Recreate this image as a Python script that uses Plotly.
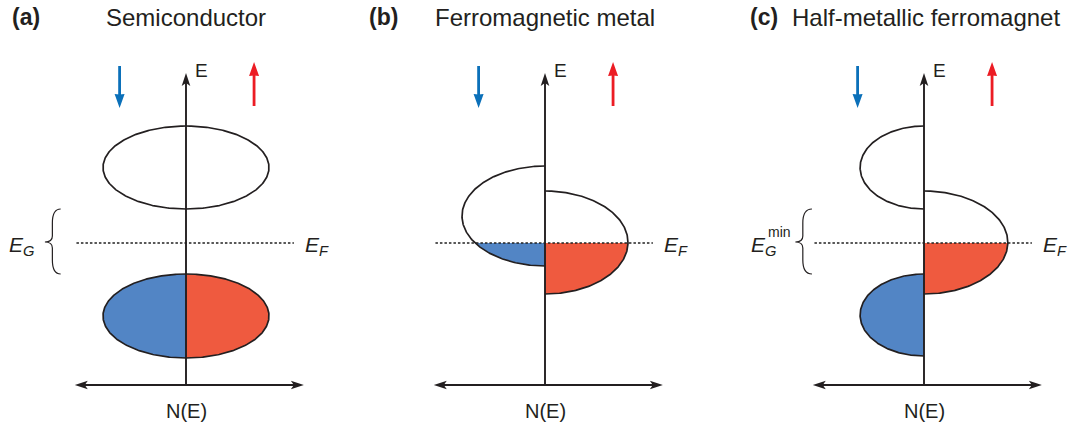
import numpy as np
import plotly.graph_objects as go

# ---------------- data (schematic band parameters, E in arb. units, N(E) in arb. units) -------------
panel_tags = ["(a)", "(b)", "(c)"]
panel_titles = ["Semiconductor", "Ferromagnetic metal", "Half-metallic ferromagnet"]
E_F = 0.0

# spin-down (left) and spin-up (right) bands: centre energy, half-height (energy), half-width (DOS)
a_dn_center = [1.51, -1.46]
a_dn_halfheight = [0.83, 0.84]
a_dn_halfwidth = [1.0, 1.0]
a_up_center = [1.51, -1.46]
a_up_halfheight = [0.83, 0.84]
a_up_halfwidth = [1.0, 1.0]

b_dn_center = [0.54]
b_dn_halfheight = [1.0]
b_dn_halfwidth = [1.0]
b_up_center = [0.01]
b_up_halfheight = [1.03]
b_up_halfwidth = [1.0]

c_dn_center = [1.51, -1.44]
c_dn_halfheight = [0.83, 0.82]
c_dn_halfwidth = [0.77, 0.77]
c_up_center = [0.01]
c_up_halfheight = [1.03]
c_up_halfwidth = [1.01]

gap_labels = ["E<sub>G</sub>", None, "E<sub>G</sub>"]
gap_sup = [None, None, "min"]

# ---------------- styling / layout constants -------------
W, H = 1075, 428
PX_X = 83.0   # px per DOS unit
PX_Y = 50.0   # px per energy unit
EF_PX = 243.0
BLUE_FILL = "#5285c5"
RED_FILL = "#ef5a3f"
BLUE_ARROW = "#0b70b9"
RED_ARROW = "#ec1c24"
INK = "#231f20"
FONT = "Liberation Sans, Arial, Helvetica, sans-serif"

panel_px = [(0, 358), (358, 716), (716, 1075)]
axis_px = [186, 545, 924]

y_top = EF_PX / PX_Y
y_bot = -(H - EF_PX) / PX_Y

bands = [
    [(a_dn_center, a_dn_halfheight, a_dn_halfwidth, -1), (a_up_center, a_up_halfheight, a_up_halfwidth, 1)],
    [(b_dn_center, b_dn_halfheight, b_dn_halfwidth, -1), (b_up_center, b_up_halfheight, b_up_halfwidth, 1)],
    [(c_dn_center, c_dn_halfheight, c_dn_halfwidth, -1), (c_up_center, c_up_halfheight, c_up_halfwidth, 1)],
]

fig = go.Figure()
shapes = []
annotations = []
xaxes = ["x", "x2", "x3"]


def head_path(xt, yt, direction, L=13.0, Wd=4.3, notch=3.0):
    # tip at (xt, yt); build in pixel offsets then convert to data units
    if direction == "up":
        a, p = (0, 1 / PX_Y), (1 / PX_X, 0)
    elif direction == "down":
        a, p = (0, -1 / PX_Y), (1 / PX_X, 0)
    elif direction == "left":
        a, p = (-1 / PX_X, 0), (0, 1 / PX_Y)
    else:
        a, p = (1 / PX_X, 0), (0, 1 / PX_Y)
    pts = [(0, 0), (-L, Wd), (-L + notch, 0), (-L, -Wd)]
    out = []
    for al, pe in pts:
        out.append((xt + al * a[0] + pe * p[0], yt + al * a[1] + pe * p[1]))
    return "M " + " L ".join(f"{x:.5f},{y:.5f}" for x, y in out) + " Z"


def arrow(xref, x0, y0, x1, y1, direction, color, lw, L, Wd, notch):
    # line from (x0,y0) to tip (x1,y1)
    back = (L - notch - 0.5)
    if direction == "up":
        yl, xl = y1 - back / PX_Y, x1
    elif direction == "down":
        yl, xl = y1 + back / PX_Y, x1
    elif direction == "left":
        xl, yl = x1 + back / PX_X, y1
    else:
        xl, yl = x1 - back / PX_X, y1
    shapes.append(dict(type="line", xref=xref, yref="y", x0=x0, y0=y0, x1=xl, y1=yl,
                       line=dict(color=color, width=lw), layer="above"))
    shapes.append(dict(type="path", xref=xref, yref="y", path=head_path(x1, y1, direction, L, Wd, notch),
                       fillcolor=color, line=dict(width=0), layer="above"))


for i in range(3):
    xa = xaxes[i]
    # band lobes
    for centers, hhs, hws, side in bands[i]:
        fillc = BLUE_FILL if side < 0 else RED_FILL
        for c, hh, hw in zip(centers, hhs, hws):
            # filled part below E_F
            if c - hh < E_F:
                ytop = min(c + hh, E_F)
                t1 = np.arcsin(np.clip((ytop - c) / hh, -1, 1))
                t = np.linspace(-np.pi / 2, t1, 120)
                xs = side * hw * np.cos(t)
                ys = c + hh * np.sin(t)
                xf = np.concatenate([[0], xs, [0]])
                yf = np.concatenate([[c - hh], ys, [ytop]])
                fig.add_trace(go.Scatter(x=xf, y=yf, xaxis=xa, yaxis="y", mode="lines",
                                         fill="toself", fillcolor=fillc, line=dict(width=0),
                                         hoverinfo="skip", showlegend=False))
            # outline of curved part
            t = np.linspace(-np.pi / 2, np.pi / 2, 200)
            fig.add_trace(go.Scatter(x=side * hw * np.cos(t), y=c + hh * np.sin(t), xaxis=xa, yaxis="y",
                                     mode="lines", line=dict(color=INK, width=1.7),
                                     hoverinfo="skip", showlegend=False))

    # Fermi level dashed line
    shapes.append(dict(type="line", xref=xa, yref="y", x0=-1.32, x1=1.30, y0=E_F, y1=E_F,
                       line=dict(color="#222222", width=1.3, dash="2.5px,2px"), layer="above"))
    annotations.append(dict(xref=xa, yref="y", x=1.41, y=E_F - 0.05, xanchor="left", yanchor="middle",
                            text="<i>E</i><sub><i>F</i></sub>", showarrow=False,
                            font=dict(family=FONT, size=21, color=INK)))

    # axes
    arrow(xa, 0, -2.84, 0, 3.40, "up", INK, 1.9, 13, 4.3, 3)
    arrow(xa, 0.2, -2.84, -1.34, -2.84, "left", INK, 1.9, 13, 4.3, 3)
    arrow(xa, -0.2, -2.84, 1.42, -2.84, "right", INK, 1.9, 13, 4.3, 3)
    annotations.append(dict(xref=xa, yref="y", x=0.08, y=3.46, xanchor="left", yanchor="middle",
                            text="E", showarrow=False, font=dict(family=FONT, size=19, color=INK)))
    annotations.append(dict(xref=xa, yref="y", x=0.0, y=-3.36, xanchor="center", yanchor="middle",
                            text="N(E)", showarrow=False, font=dict(family=FONT, size=20, color=INK)))

    # spin arrows
    arrow(xa, -0.80, 3.54, -0.80, 2.70, "down", BLUE_ARROW, 2.8, 14, 5.0, 0.5)
    arrow(xa, 0.82, 2.74, 0.82, 3.62, "up", RED_ARROW, 2.8, 14, 5.0, 0.5)

    # gap brace
    if gap_labels[i] is not None:
        dn = bands[i][0]
        cs, hs = dn[0], dn[1]
        y1 = min(c - h for c, h in zip(cs, hs) if c - h > E_F)
        y0 = max(c + h for c, h in zip(cs, hs) if c + h < E_F)
        ym = 0.5 * (y0 + y1) - 0.01
        if i == 0:
            xr, xs_, xl = -1.51, -1.61, -1.70
        else:
            xr, xs_, xl = -1.35, -1.46, -1.55
        d = 0.28
        dm = 0.12
        path = (f"M {xr},{y1} Q {xs_},{y1} {xs_},{y1 - d} L {xs_},{ym + dm} "
                f"Q {xs_},{ym} {xl},{ym} Q {xs_},{ym} {xs_},{ym - dm} L {xs_},{y0 + d} "
                f"Q {xs_},{y0} {xr},{y0}")
        shapes.append(dict(type="path", xref=xa, yref="y", path=path,
                           line=dict(color=INK, width=1.2)))
        if gap_sup[i] is None:
            annotations.append(dict(xref=xa, yref="y", x=-1.81, y=E_F - 0.05, xanchor="right", yanchor="middle",
                                    text="<i>" + gap_labels[i] + "</i>", showarrow=False,
                                    font=dict(family=FONT, size=21, color=INK)))
        else:
            annotations.append(dict(xref=xa, yref="y", x=-1.76, y=E_F - 0.05, xanchor="right", yanchor="middle",
                                    text="<i>" + gap_labels[i] + "</i>", showarrow=False,
                                    font=dict(family=FONT, size=21, color=INK)))
            annotations.append(dict(xref=xa, yref="y", x=-1.90, y=0.22, xanchor="left", yanchor="middle",
                                    text=gap_sup[i], showarrow=False,
                                    font=dict(family=FONT, size=14, color=INK)))

    # panel headings
    tag_x = [10, 367, 748][i]
    title_x = [104, 433, 790][i]
    annotations.append(dict(xref="paper", yref="paper", x=tag_x / W, y=1 - 17 / H, xanchor="left",
                            yanchor="middle", text="<b>" + panel_tags[i] + "</b>", showarrow=False,
                            font=dict(family=FONT, size=23, color=INK)))
    annotations.append(dict(xref="paper", yref="paper", x=title_x / W, y=1 - 17 / H, xanchor="left",
                            yanchor="middle", text=panel_titles[i], showarrow=False,
                            font=dict(family=FONT, size=24, color=INK)))

layout_axes = {}
for i, name in enumerate(["xaxis", "xaxis2", "xaxis3"]):
    p0, p1 = panel_px[i]
    o = axis_px[i]
    layout_axes[name] = dict(domain=[p0 / W, p1 / W], range=[(p0 - o) / PX_X, (p1 - o) / PX_X],
                             anchor="y", visible=False, fixedrange=True)

fig.update_layout(
    width=W, height=H, margin=dict(l=0, r=0, t=0, b=0),
    paper_bgcolor="white", plot_bgcolor="white",
    yaxis=dict(range=[y_bot, y_top], domain=[0, 1], visible=False, fixedrange=True),
    shapes=shapes, annotations=annotations, showlegend=False,
    **layout_axes,
)

fig.write_html("out.html")
